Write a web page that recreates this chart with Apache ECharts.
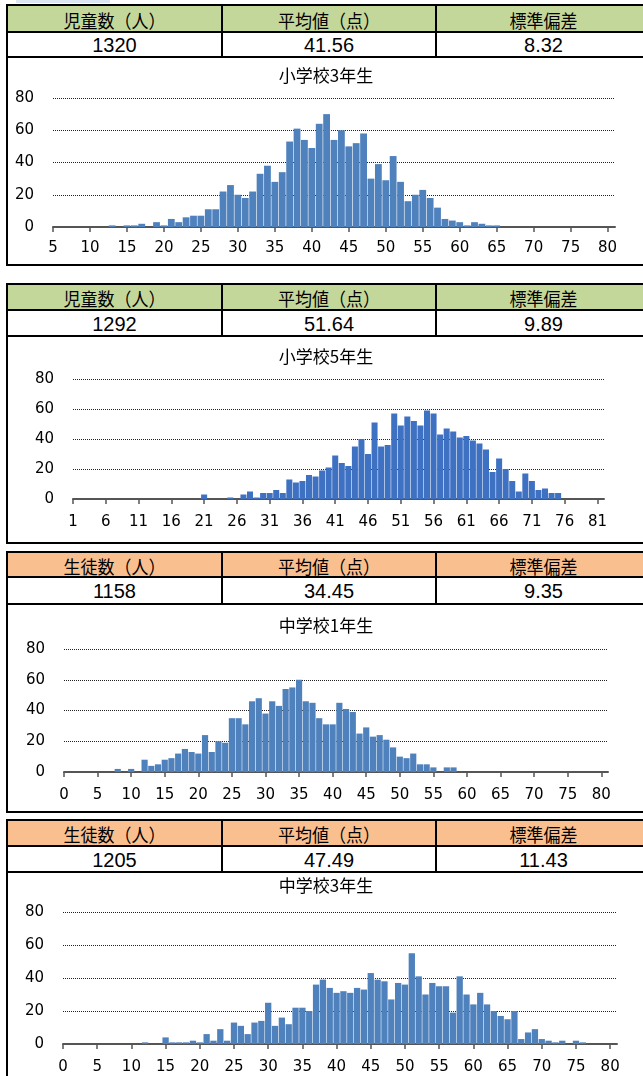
<!DOCTYPE html>
<html>
<head>
<meta charset="utf-8">
<script src="https://cdn.jsdelivr.net/npm/echarts@6/dist/echarts.min.js"></script>
<style>
  html, body { margin: 0; padding: 0; background: #fff; }
  body { width: 643px; height: 1076px; position: relative; overflow: hidden; }
  .strip { position: absolute; left: 16px; top: 0; width: 94px; height: 3px; background: #dce6f2; }
  .box { position: absolute; left: 6px; width: 660px; border: 2px solid #000; box-sizing: border-box; }
  .row, .line { position: absolute; left: 0; right: 0; }
  .line { height: 2px; background: #000; }
  .vline { position: absolute; top: 0; width: 2px; background: #000; }
  .cell { position: absolute; text-align: center; color: #000; white-space: nowrap; }
  .hdr { font: 17px "Noto Sans CJK JP", sans-serif; transform: scaleY(1.08); }
  .num { font: 20px "Liberation Sans Narrow", "Liberation Sans", sans-serif; }
  #chart { position: absolute; left: 0; top: 0; width: 643px; height: 1076px; z-index: 2; }
</style>
</head>
<body>
<div class="strip"></div>
<div id="chart"></div>
<script>
// 表のラベルと統計値
const elemHeads = ['児童数（人）', '平均値（点）', '標準偏差'];
const juniorHeads = ['生徒数（人）', '平均値（点）', '標準偏差'];
const stats = [
  ['1320', '41.56', '8.32'],
  ['1292', '51.64', '9.89'],
  ['1158', '34.45', '9.35'],
  ['1205', '47.49', '11.43']
];
const titles = ['小学校3年生', '小学校5年生', '中学校1年生', '中学校3年生'];

// 得点の範囲（カテゴリ軸）
const firstScore = [5, 1, 0, 0];
const lastScore = [81, 82, 81, 81];

// 得点ごとの人数
const countsE3 = [
  0, 0, 0, 0, 0, 0, 0, 0, 1, 0,
  1, 1, 2, 0, 3, 1, 5, 3, 6, 7,
  7, 11, 11, 22, 26, 20, 18, 22, 33, 38,
  28, 34, 53, 61, 54, 49, 64, 70, 54, 60,
  50, 52, 58, 30, 39, 29, 44, 28, 16, 20,
  23, 18, 12, 5, 4, 3, 1, 3, 2, 1,
  1, 0, 0, 0, 0, 0, 0, 0, 0, 0,
  0, 0, 0, 0, 0, 0, 0
];
const countsE5 = [
  0, 0, 0, 0, 0, 0, 0, 0, 0, 0,
  0, 0, 0, 0, 0, 0, 0, 0, 0, 0,
  3, 0, 0, 0, 1, 0, 3, 5, 1, 4,
  4, 6, 4, 13, 11, 12, 16, 15, 19, 21,
  29, 24, 22, 35, 40, 30, 51, 35, 36, 57,
  49, 55, 52, 49, 59, 57, 43, 47, 45, 41,
  42, 39, 37, 33, 18, 27, 20, 12, 5, 17,
  12, 6, 7, 4, 4, 0, 0, 0, 0, 0,
  0, 0
];
const countsJ1 = [
  0, 0, 0, 0, 0, 0, 0, 0, 2, 0,
  2, 0, 8, 4, 5, 8, 9, 12, 15, 13,
  12, 24, 13, 20, 19, 35, 35, 31, 46, 48,
  38, 46, 43, 54, 55, 60, 46, 45, 35, 31,
  31, 45, 41, 39, 25, 29, 23, 24, 21, 16,
  10, 9, 12, 5, 5, 3, 0, 3, 3, 0,
  0, 0, 0, 0, 0, 0, 0, 0, 0, 0,
  0, 0, 0, 0, 0, 0, 0, 0, 0, 0,
  0, 0
];
const countsJ3 = [
  0, 0, 0, 0, 0, 0, 0, 0, 0, 0,
  0, 0, 1, 0, 0, 4, 1, 1, 1, 2,
  1, 6, 2, 9, 2, 13, 11, 6, 13, 14,
  25, 11, 16, 12, 22, 22, 20, 36, 39, 34,
  31, 32, 31, 34, 33, 43, 39, 38, 27, 37,
  36, 55, 41, 30, 37, 35, 35, 19, 41, 30,
  24, 31, 24, 20, 17, 15, 20, 3, 7, 9,
  3, 2, 1, 2, 0, 2, 1, 0, 0, 0,
  0, 0
];
const yTicks = [0, 20, 40, 60, 80];

const allCounts = [countsE3, countsE5, countsJ1, countsJ3];
const barColors = ['#4f81bd', '#3f71c2', '#4f81bd', '#4f81bd'];
const headFills = ['#c4d79b', '#c4d79b', '#fabf8f', '#fabf8f'];

// 各パネルの枠（表の上端・見出し下・数値下・枠の下端）
const panels = [
  { top: 5, hdr: 32, data: 57, bottom: 265 },
  { top: 284, hdr: 310, data: 336, bottom: 543 },
  { top: 552, hdr: 577, data: 604, bottom: 812 },
  { top: 820, hdr: 846, data: 872, bottom: 1100 }
];
const grids = [
  { left: 53, top: 98, width: 562, height: 129 },
  { left: 73, top: 379, width: 531, height: 120 },
  { left: 64, top: 649, width: 544, height: 123 },
  { left: 63, top: 912, width: 554, height: 132 }
];
const titleCenters = [76, 357, 626, 886];
const labelMargins = [14, 16, 16, 16];
const cols = [[0, 213], [215, 427], [429, 642]];

function el(parent, cls, css, text) {
  const d = document.createElement('div');
  d.className = cls;
  Object.assign(d.style, css);
  if (text) d.textContent = text;
  parent.appendChild(d);
  return d;
}

panels.forEach((p, i) => {
  const box = el(document.body, 'box', { top: (p.top - 1) + 'px', height: (p.bottom - p.top + 2) + 'px' });
  const hh = p.hdr - p.top - 2;
  const dh = p.data - p.hdr - 2;
  el(box, 'row', { top: '0px', height: hh + 'px', background: headFills[i] });
  el(box, 'line', { top: hh + 'px' });
  el(box, 'line', { top: (p.data - p.top - 2) + 'px' });
  [213, 427].forEach((x) => el(box, 'vline', { left: x + 'px', height: (p.data - p.top - 2) + 'px' }));
  const heads = i < 2 ? elemHeads : juniorHeads;
  cols.forEach((c, k) => {
    el(box, 'cell hdr', { left: c[0] + 'px', width: (c[1] - c[0]) + 'px', top: '1px', height: hh + 'px', lineHeight: hh + 'px' }, heads[k]);
    el(box, 'cell num', { left: c[0] + 'px', width: (c[1] - c[0]) + 'px', top: (hh + 3) + 'px', height: dh + 'px', lineHeight: dh + 'px' }, stats[i][k]);
  });
});

function scoreRange(a, b) {
  const out = [];
  for (let s = a; s <= b; s++) out.push(String(s));
  return out;
}

const labelFont = { fontFamily: 'DejaVu Sans', fontSize: 15, color: '#000' };

const option = {
  animation: false,
  title: titles.map((t, i) => ({
    text: t,
    left: 326,
    top: titleCenters[i] - 9,
    textAlign: 'center',
    padding: 0,
    textStyle: { fontFamily: 'Noto Sans CJK JP', fontSize: 17, fontWeight: 'normal', color: '#000' }
  })),
  grid: grids.map((g) => Object.assign({ containLabel: false }, g)),
  xAxis: grids.map((g, i) => ({
    type: 'category',
    gridIndex: i,
    boundaryGap: false,
    data: scoreRange(firstScore[i], lastScore[i]),
    axisLine: { lineStyle: { color: '#555', width: 2 } },
    axisTick: { interval: 4, length: 5, lineStyle: { color: '#555', width: 1.5 } },
    axisLabel: Object.assign({ interval: 4, margin: labelMargins[i] }, labelFont),
    splitLine: { show: false }
  })),
  yAxis: grids.map((g, i) => ({
    type: 'value',
    gridIndex: i,
    min: yTicks[0],
    max: yTicks[yTicks.length - 1],
    interval: yTicks[1] - yTicks[0],
    axisLine: { show: false },
    axisTick: { show: false },
    axisLabel: Object.assign({ margin: 19 }, labelFont),
    splitLine: { lineStyle: { color: '#222', width: 1, type: [1, 1] } }
  })),
  series: allCounts.map((d, i) => ({
    type: 'bar',
    xAxisIndex: i,
    yAxisIndex: i,
    data: d,
    barCategoryGap: '8%',
    itemStyle: { color: barColors[i] }
  }))
};

const chart = echarts.init(document.getElementById('chart'), null, { renderer: 'canvas' });
chart.setOption(option);
</script>
</body>
</html>
